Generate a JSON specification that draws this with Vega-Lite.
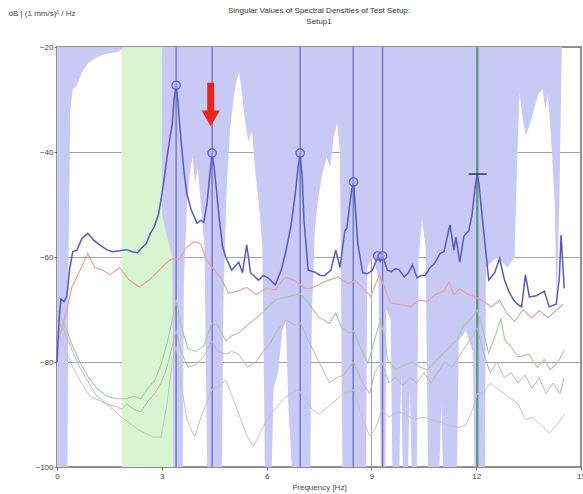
{
  "$schema": "https://vega.github.io/schema/vega-lite/v6.json",
  "width": 524,
  "height": 420,
  "autosize": "none",
  "padding": {"left": 57, "top": 47, "right": 2, "bottom": 27},
  "background": "white",
  "title": {
    "text": ["Singular Values of Spectral Densities of Test Setup:", "Setup1"],
    "font": "Liberation Sans",
    "fontSize": 8,
    "fontWeight": "normal",
    "color": "#333333",
    "anchor": "middle",
    "offset": -17,
    "lineHeight": 11
  },
  "config": {
    "view": {"stroke": "#707070", "strokeWidth": 1.5},
    "axis": {
      "labelFont": "Liberation Sans",
      "labelFontSize": 8,
      "labelColor": "#444444",
      "labelFlush": false,
      "titleFont": "Liberation Sans",
      "titleFontSize": 8,
      "titleFontWeight": "normal",
      "titleColor": "#444444",
      "domain": false,
      "tickColor": "#707070",
      "tickSize": 3,
      "gridColor": "#8c8c8c",
      "gridWidth": 0.8,
      "gridOpacity": 1,
      "zindex": 1
    }
  },
  "datasets": {
    "band": [{"f": 1.85, "f2": 3.33}],
    "bg": [
      {"f": 0, "b": -100}, {"f": 0.3, "b": -100}, {"f": 0.33, "b": -60}, {"f": 0.38, "b": -32}, {"f": 0.45, "b": -28},
      {"f": 0.55, "b": -27.5}, {"f": 0.62, "b": -26.5}, {"f": 0.7, "b": -25}, {"f": 0.8, "b": -24}, {"f": 0.9, "b": -23},
      {"f": 1.0, "b": -22.5}, {"f": 1.15, "b": -22}, {"f": 1.3, "b": -21.5}, {"f": 1.5, "b": -21.2}, {"f": 1.7, "b": -21},
      {"f": 1.85, "b": -20.5}, {"f": 1.9, "b": -20}, {"f": 3.0, "b": -20}, {"f": 3.01, "b": -52}, {"f": 3.15, "b": -56},
      {"f": 3.3, "b": -60}, {"f": 3.33, "b": -100}, {"f": 3.6, "b": -100}, {"f": 3.63, "b": -65}, {"f": 3.72, "b": -50},
      {"f": 3.8, "b": -44}, {"f": 3.88, "b": -41}, {"f": 3.95, "b": -46}, {"f": 4.03, "b": -43}, {"f": 4.12, "b": -50},
      {"f": 4.22, "b": -58}, {"f": 4.3, "b": -100}, {"f": 4.72, "b": -100}, {"f": 4.76, "b": -70}, {"f": 4.85, "b": -48},
      {"f": 4.95, "b": -36}, {"f": 5.05, "b": -30}, {"f": 5.15, "b": -26}, {"f": 5.22, "b": -25}, {"f": 5.3, "b": -29},
      {"f": 5.38, "b": -34}, {"f": 5.48, "b": -38}, {"f": 5.58, "b": -36}, {"f": 5.68, "b": -44}, {"f": 5.78, "b": -50},
      {"f": 5.88, "b": -58}, {"f": 5.95, "b": -100}, {"f": 6.15, "b": -100}, {"f": 6.2, "b": -85}, {"f": 6.33, "b": -82},
      {"f": 6.45, "b": -74}, {"f": 6.55, "b": -72}, {"f": 6.62, "b": -88}, {"f": 6.72, "b": -100}, {"f": 7.25, "b": -100},
      {"f": 7.3, "b": -70}, {"f": 7.38, "b": -55}, {"f": 7.48, "b": -48.6}, {"f": 7.6, "b": -44}, {"f": 7.72, "b": -41},
      {"f": 7.82, "b": -43}, {"f": 7.92, "b": -37}, {"f": 8.02, "b": -34.5}, {"f": 8.1, "b": -40}, {"f": 8.17, "b": -100},
      {"f": 8.85, "b": -100}, {"f": 8.88, "b": -62}, {"f": 9.05, "b": -60}, {"f": 9.2, "b": -64}, {"f": 9.27, "b": -100},
      {"f": 9.4, "b": -100}, {"f": 9.43, "b": -70}, {"f": 9.55, "b": -72}, {"f": 9.6, "b": -100}, {"f": 9.8, "b": -100},
      {"f": 9.85, "b": -82}, {"f": 9.9, "b": -100}, {"f": 10.05, "b": -100}, {"f": 10.1, "b": -85}, {"f": 10.15, "b": -100},
      {"f": 10.3, "b": -100}, {"f": 10.35, "b": -60}, {"f": 10.45, "b": -53}, {"f": 10.55, "b": -58}, {"f": 10.62, "b": -100},
      {"f": 10.95, "b": -100}, {"f": 11.0, "b": -88}, {"f": 11.05, "b": -100}, {"f": 11.45, "b": -100}, {"f": 11.5, "b": -76},
      {"f": 11.7, "b": -74}, {"f": 11.9, "b": -78}, {"f": 11.95, "b": -100}, {"f": 12.25, "b": -100}, {"f": 12.28, "b": -62},
      {"f": 12.6, "b": -60}, {"f": 12.9, "b": -62}, {"f": 13.1, "b": -60}, {"f": 13.18, "b": -40}, {"f": 13.24, "b": -28.8},
      {"f": 13.32, "b": -33}, {"f": 13.42, "b": -37}, {"f": 13.52, "b": -35}, {"f": 13.65, "b": -32}, {"f": 13.78, "b": -29},
      {"f": 13.9, "b": -28}, {"f": 13.98, "b": -32}, {"f": 14.05, "b": -29}, {"f": 14.15, "b": -38}, {"f": 14.25, "b": -50},
      {"f": 14.3, "b": -70}, {"f": 14.38, "b": -50}, {"f": 14.45, "b": -20}, {"f": 15, "b": -20}
    ],
    "modes": [{"f": 3.41}, {"f": 4.44}, {"f": 6.96}, {"f": 8.48}, {"f": 9.32}],
    "mode12": [{"f": 12.03}],
    "sv5": [
      {"f": 0.0, "v": -74}, {"f": 0.2, "v": -77}, {"f": 0.45, "v": -81}, {"f": 0.7, "v": -84}, {"f": 0.95, "v": -86.5},
      {"f": 1.42, "v": -88}, {"f": 1.85, "v": -90.5}, {"f": 2.35, "v": -93}, {"f": 2.75, "v": -94.3}, {"f": 2.98, "v": -94.3},
      {"f": 3.15, "v": -88}, {"f": 3.3, "v": -80}, {"f": 3.41, "v": -77}, {"f": 3.55, "v": -84}, {"f": 3.72, "v": -91},
      {"f": 3.94, "v": -94.3}, {"f": 4.15, "v": -90}, {"f": 4.43, "v": -85.3}, {"f": 4.68, "v": -84.5}, {"f": 4.83, "v": -83.4},
      {"f": 5.1, "v": -88}, {"f": 5.4, "v": -93.5}, {"f": 5.62, "v": -96.2}, {"f": 5.85, "v": -93}, {"f": 6.14, "v": -89.7},
      {"f": 6.53, "v": -86.7}, {"f": 6.9, "v": -85.3}, {"f": 7.1, "v": -87}, {"f": 7.3, "v": -89}, {"f": 7.5, "v": -90},
      {"f": 7.85, "v": -88}, {"f": 8.2, "v": -86}, {"f": 8.49, "v": -85.3}, {"f": 8.75, "v": -91}, {"f": 8.95, "v": -94},
      {"f": 9.1, "v": -93}, {"f": 9.3, "v": -89}, {"f": 9.5, "v": -90.5}, {"f": 9.75, "v": -89.5}, {"f": 10.0, "v": -90},
      {"f": 10.22, "v": -91}, {"f": 10.5, "v": -90.5}, {"f": 10.7, "v": -91}, {"f": 11.0, "v": -91.5}, {"f": 11.2, "v": -92},
      {"f": 11.5, "v": -92.5}, {"f": 11.7, "v": -92}, {"f": 11.9, "v": -89}, {"f": 12.03, "v": -86}, {"f": 12.2, "v": -86},
      {"f": 12.4, "v": -84}, {"f": 12.6, "v": -85}, {"f": 12.8, "v": -86}, {"f": 13.0, "v": -87}, {"f": 13.2, "v": -88},
      {"f": 13.41, "v": -91}, {"f": 13.6, "v": -90.5}, {"f": 13.85, "v": -92}, {"f": 14.1, "v": -93.5}, {"f": 14.3, "v": -92},
      {"f": 14.52, "v": -90}
    ],
    "sv4": [
      {"f": 0.0, "v": -72}, {"f": 0.2, "v": -74}, {"f": 0.45, "v": -78}, {"f": 0.65, "v": -81}, {"f": 0.91, "v": -84},
      {"f": 1.14, "v": -86.5}, {"f": 1.42, "v": -88}, {"f": 1.7, "v": -88.5}, {"f": 1.85, "v": -89}, {"f": 2.0, "v": -88},
      {"f": 2.2, "v": -89}, {"f": 2.4, "v": -89.5}, {"f": 2.6, "v": -87.5}, {"f": 2.8, "v": -86}, {"f": 2.98, "v": -84},
      {"f": 3.15, "v": -81}, {"f": 3.3, "v": -77}, {"f": 3.41, "v": -74}, {"f": 3.55, "v": -78}, {"f": 3.75, "v": -81},
      {"f": 3.98, "v": -80.5}, {"f": 4.2, "v": -79}, {"f": 4.43, "v": -76}, {"f": 4.6, "v": -78}, {"f": 4.83, "v": -78.5},
      {"f": 5.0, "v": -78}, {"f": 5.2, "v": -78.5}, {"f": 5.45, "v": -81}, {"f": 5.7, "v": -80}, {"f": 5.9, "v": -78},
      {"f": 6.1, "v": -76.5}, {"f": 6.3, "v": -74}, {"f": 6.56, "v": -72}, {"f": 6.8, "v": -73}, {"f": 6.96, "v": -72.5},
      {"f": 7.2, "v": -76}, {"f": 7.5, "v": -80}, {"f": 7.8, "v": -84}, {"f": 8.0, "v": -83}, {"f": 8.2, "v": -82.5},
      {"f": 8.49, "v": -80}, {"f": 8.75, "v": -84}, {"f": 8.95, "v": -86}, {"f": 9.1, "v": -82}, {"f": 9.3, "v": -80},
      {"f": 9.5, "v": -84}, {"f": 9.7, "v": -83}, {"f": 9.9, "v": -84.5}, {"f": 10.1, "v": -83}, {"f": 10.3, "v": -84},
      {"f": 10.5, "v": -82}, {"f": 10.7, "v": -84}, {"f": 10.9, "v": -82}, {"f": 11.1, "v": -80}, {"f": 11.3, "v": -81},
      {"f": 11.5, "v": -79}, {"f": 11.7, "v": -77}, {"f": 11.9, "v": -75}, {"f": 12.03, "v": -73.5}, {"f": 12.2, "v": -78},
      {"f": 12.4, "v": -82}, {"f": 12.6, "v": -80}, {"f": 12.8, "v": -83}, {"f": 13.0, "v": -82}, {"f": 13.2, "v": -84},
      {"f": 13.4, "v": -82.5}, {"f": 13.6, "v": -85}, {"f": 13.8, "v": -83}, {"f": 14.0, "v": -86}, {"f": 14.2, "v": -84},
      {"f": 14.4, "v": -86}, {"f": 14.52, "v": -83}
    ],
    "sv3": [
      {"f": 0.0, "v": -70}, {"f": 0.1, "v": -71.5}, {"f": 0.28, "v": -74}, {"f": 0.45, "v": -77}, {"f": 0.65, "v": -80},
      {"f": 0.91, "v": -83}, {"f": 1.14, "v": -85}, {"f": 1.42, "v": -86.5}, {"f": 1.7, "v": -87}, {"f": 1.99, "v": -87},
      {"f": 2.2, "v": -86.5}, {"f": 2.4, "v": -87}, {"f": 2.6, "v": -85}, {"f": 2.8, "v": -83.5}, {"f": 2.98, "v": -80.5},
      {"f": 3.15, "v": -76.5}, {"f": 3.3, "v": -72}, {"f": 3.41, "v": -68}, {"f": 3.55, "v": -73}, {"f": 3.75, "v": -77.5},
      {"f": 3.98, "v": -78}, {"f": 4.2, "v": -77}, {"f": 4.43, "v": -72.6}, {"f": 4.6, "v": -73}, {"f": 4.83, "v": -76},
      {"f": 5.0, "v": -75}, {"f": 5.2, "v": -74.5}, {"f": 5.45, "v": -73}, {"f": 5.9, "v": -70.5}, {"f": 6.25, "v": -68.2},
      {"f": 6.56, "v": -67.6}, {"f": 6.96, "v": -67}, {"f": 7.2, "v": -68.8}, {"f": 7.5, "v": -71.5}, {"f": 7.8, "v": -72.6},
      {"f": 7.98, "v": -70.7}, {"f": 8.15, "v": -73.5}, {"f": 8.38, "v": -74.5}, {"f": 8.49, "v": -74}, {"f": 8.75, "v": -78.3},
      {"f": 8.9, "v": -80.2}, {"f": 9.09, "v": -75.8}, {"f": 9.26, "v": -72}, {"f": 9.4, "v": -76}, {"f": 9.46, "v": -79.6},
      {"f": 9.69, "v": -81.5}, {"f": 9.97, "v": -80.5}, {"f": 10.17, "v": -80}, {"f": 10.4, "v": -81}, {"f": 10.6, "v": -81.5},
      {"f": 10.88, "v": -79.6}, {"f": 11.16, "v": -77.7}, {"f": 11.45, "v": -75.8}, {"f": 11.62, "v": -73.3}, {"f": 11.82, "v": -72},
      {"f": 12.03, "v": -70.1}, {"f": 12.2, "v": -74}, {"f": 12.35, "v": -78.3}, {"f": 12.55, "v": -75}, {"f": 12.7, "v": -71.7},
      {"f": 12.82, "v": -75.8}, {"f": 13.0, "v": -77.1}, {"f": 13.2, "v": -79}, {"f": 13.5, "v": -78.5}, {"f": 13.75, "v": -81},
      {"f": 13.95, "v": -79.5}, {"f": 14.12, "v": -81.5}, {"f": 14.35, "v": -80}, {"f": 14.52, "v": -77.7}
    ],
    "sv2": [
      {"f": 0.03, "v": -76}, {"f": 0.17, "v": -73}, {"f": 0.43, "v": -65.7}, {"f": 0.57, "v": -63.8}, {"f": 0.88, "v": -59.3},
      {"f": 1.08, "v": -62}, {"f": 1.31, "v": -62.5}, {"f": 1.51, "v": -63.4}, {"f": 1.79, "v": -62}, {"f": 2.07, "v": -64.4},
      {"f": 2.36, "v": -65.7}, {"f": 2.64, "v": -64.4}, {"f": 2.93, "v": -62.5}, {"f": 3.12, "v": -61.2}, {"f": 3.3, "v": -60.3},
      {"f": 3.5, "v": -60.5}, {"f": 3.69, "v": -58.3}, {"f": 3.92, "v": -57.1}, {"f": 4.12, "v": -57.5}, {"f": 4.26, "v": -60.3},
      {"f": 4.43, "v": -61.9}, {"f": 4.69, "v": -64}, {"f": 4.91, "v": -66.9}, {"f": 5.2, "v": -66.4}, {"f": 5.43, "v": -65.8},
      {"f": 5.71, "v": -67.2}, {"f": 5.97, "v": -66}, {"f": 6.25, "v": -66.2}, {"f": 6.53, "v": -63.8}, {"f": 6.82, "v": -64.6},
      {"f": 7.1, "v": -66}, {"f": 7.27, "v": -66}, {"f": 7.67, "v": -64.7}, {"f": 8.04, "v": -63.8}, {"f": 8.32, "v": -65},
      {"f": 8.55, "v": -64.5}, {"f": 8.81, "v": -66.3}, {"f": 8.98, "v": -67.5}, {"f": 9.23, "v": -63.4}, {"f": 9.38, "v": -66},
      {"f": 9.55, "v": -68.8}, {"f": 9.83, "v": -69}, {"f": 10.11, "v": -69.5}, {"f": 10.37, "v": -68.2}, {"f": 10.6, "v": -68.5},
      {"f": 10.82, "v": -67.2}, {"f": 11.08, "v": -66.5}, {"f": 11.22, "v": -64.7}, {"f": 11.36, "v": -67.2}, {"f": 11.53, "v": -66},
      {"f": 11.73, "v": -67}, {"f": 11.96, "v": -67.6}, {"f": 12.22, "v": -68.5}, {"f": 12.44, "v": -69.5}, {"f": 12.67, "v": -68.2},
      {"f": 12.87, "v": -70.7}, {"f": 13.1, "v": -72.3}, {"f": 13.35, "v": -70}, {"f": 13.58, "v": -71.6}, {"f": 13.81, "v": -70.2},
      {"f": 14.06, "v": -71.6}, {"f": 14.29, "v": -70.1}, {"f": 14.49, "v": -69}
    ],
    "sv1": [
      {"f": 0.0, "v": -80}, {"f": 0.06, "v": -72}, {"f": 0.11, "v": -68}, {"f": 0.2, "v": -68.5}, {"f": 0.28, "v": -67.5},
      {"f": 0.37, "v": -62}, {"f": 0.45, "v": -59}, {"f": 0.57, "v": -58.7}, {"f": 0.71, "v": -56.5}, {"f": 0.88, "v": -55.5},
      {"f": 1.05, "v": -56.8}, {"f": 1.22, "v": -57.7}, {"f": 1.42, "v": -58.6}, {"f": 1.59, "v": -59}, {"f": 1.79, "v": -58.8},
      {"f": 1.99, "v": -58.6}, {"f": 2.16, "v": -59}, {"f": 2.3, "v": -59.2}, {"f": 2.44, "v": -58.2}, {"f": 2.56, "v": -57.4},
      {"f": 2.67, "v": -55.5}, {"f": 2.78, "v": -54.3}, {"f": 2.9, "v": -52}, {"f": 2.98, "v": -49}, {"f": 3.07, "v": -45},
      {"f": 3.15, "v": -41}, {"f": 3.24, "v": -37}, {"f": 3.3, "v": -34.6}, {"f": 3.35, "v": -30}, {"f": 3.41, "v": -27.3},
      {"f": 3.47, "v": -31}, {"f": 3.52, "v": -35.5}, {"f": 3.64, "v": -44}, {"f": 3.72, "v": -48}, {"f": 3.84, "v": -51},
      {"f": 4.01, "v": -53.6}, {"f": 4.12, "v": -53}, {"f": 4.2, "v": -53.4}, {"f": 4.29, "v": -50}, {"f": 4.38, "v": -44},
      {"f": 4.44, "v": -40.2}, {"f": 4.5, "v": -43}, {"f": 4.56, "v": -47}, {"f": 4.65, "v": -53}, {"f": 4.74, "v": -58},
      {"f": 4.83, "v": -60}, {"f": 5.0, "v": -62.5}, {"f": 5.2, "v": -61}, {"f": 5.31, "v": -63}, {"f": 5.43, "v": -57.7},
      {"f": 5.54, "v": -63}, {"f": 5.77, "v": -64.4}, {"f": 5.91, "v": -63.5}, {"f": 6.05, "v": -64}, {"f": 6.25, "v": -65.3},
      {"f": 6.42, "v": -62.5}, {"f": 6.56, "v": -58.7}, {"f": 6.7, "v": -54}, {"f": 6.82, "v": -48}, {"f": 6.9, "v": -43},
      {"f": 6.96, "v": -40.2}, {"f": 7.02, "v": -45}, {"f": 7.07, "v": -53}, {"f": 7.19, "v": -62.5}, {"f": 7.39, "v": -62.9},
      {"f": 7.53, "v": -63.5}, {"f": 7.67, "v": -63.5}, {"f": 7.84, "v": -62.5}, {"f": 7.93, "v": -60}, {"f": 7.98, "v": -58.7},
      {"f": 8.1, "v": -62}, {"f": 8.18, "v": -58}, {"f": 8.24, "v": -55}, {"f": 8.3, "v": -54.5}, {"f": 8.38, "v": -50},
      {"f": 8.44, "v": -47}, {"f": 8.49, "v": -45.7}, {"f": 8.55, "v": -51.6}, {"f": 8.61, "v": -57.4}, {"f": 8.75, "v": -63},
      {"f": 8.89, "v": -63.2}, {"f": 9.03, "v": -62.5}, {"f": 9.12, "v": -61}, {"f": 9.18, "v": -59.8}, {"f": 9.25, "v": -60.8},
      {"f": 9.32, "v": -59.8}, {"f": 9.46, "v": -62.5}, {"f": 9.57, "v": -62.8}, {"f": 9.69, "v": -62.2}, {"f": 9.8, "v": -62.5},
      {"f": 9.94, "v": -63.8}, {"f": 10.06, "v": -63}, {"f": 10.17, "v": -61.5}, {"f": 10.31, "v": -64}, {"f": 10.43, "v": -63.5},
      {"f": 10.54, "v": -63.5}, {"f": 10.68, "v": -62}, {"f": 10.8, "v": -61.3}, {"f": 10.97, "v": -59.3}, {"f": 11.08, "v": -59},
      {"f": 11.16, "v": -56.5}, {"f": 11.25, "v": -53.9}, {"f": 11.36, "v": -58.7}, {"f": 11.42, "v": -56.2}, {"f": 11.53, "v": -61},
      {"f": 11.65, "v": -56}, {"f": 11.79, "v": -55}, {"f": 11.88, "v": -52}, {"f": 11.96, "v": -47.2}, {"f": 12.03, "v": -44},
      {"f": 12.08, "v": -46}, {"f": 12.16, "v": -51.6}, {"f": 12.22, "v": -55.5}, {"f": 12.36, "v": -64.4}, {"f": 12.53, "v": -63},
      {"f": 12.67, "v": -60.3}, {"f": 12.81, "v": -64.4}, {"f": 12.93, "v": -66.5}, {"f": 13.07, "v": -68.2}, {"f": 13.18, "v": -69},
      {"f": 13.3, "v": -69.5}, {"f": 13.41, "v": -63.4}, {"f": 13.52, "v": -67.6}, {"f": 13.72, "v": -67.4}, {"f": 13.95, "v": -66.5},
      {"f": 14.09, "v": -69.5}, {"f": 14.29, "v": -69}, {"f": 14.38, "v": -64}, {"f": 14.43, "v": -55.8}, {"f": 14.52, "v": -66}
    ],
    "peaks": [
      {"f": 3.41, "v": -27.3}, {"f": 4.44, "v": -40.2}, {"f": 6.96, "v": -40.2}, {"f": 8.49, "v": -45.7},
      {"f": 9.18, "v": -59.8}, {"f": 9.32, "v": -59.8}
    ],
    "mark12": [{"f": 11.78, "f2": 12.3, "v": -44.2}],
    "arrow": [{"f": 4.4, "top": -26.8, "bottom": -32.6, "tip": -33.6}]
  },
  "layer": [
    {
      "data": {"name": "band"},
      "mark": {"type": "rect", "color": "#d7f5d1"},
      "encoding": {
        "x": {"field": "f", "type": "quantitative", "title": "Frequency [Hz]",
              "scale": {"domain": [0, 15], "nice": false, "zero": false},
              "axis": {"values": [0, 3, 6, 9, 12, 15], "grid": true, "labelPadding": 2, "titlePadding": 3}},
        "x2": {"field": "f2"}
      }
    },
    {
      "data": {"name": "bg"},
      "mark": {"type": "area", "color": "#c9c9f6", "opacity": 1},
      "encoding": {
        "x": {"field": "f", "type": "quantitative", "title": "Frequency [Hz]"},
        "y": {"field": "b", "type": "quantitative", "title": "dB | (1 mm/s)² / Hz",
              "scale": {"domain": [-100, -20], "nice": false, "zero": false},
              "axis": {"values": [-100, -80, -60, -40, -20], "grid": true, "labelPadding": 1,
                       "titleAngle": 0, "titleAlign": "left", "titleBaseline": "middle",
                       "titleX": -49, "titleY": -34}},
        "y2": {"datum": -20}
      }
    },
    {
      "data": {"name": "modes"},
      "mark": {"type": "rule", "color": "#6c6cbc", "strokeWidth": 1.3},
      "encoding": {"x": {"field": "f", "type": "quantitative", "title": "Frequency [Hz]"}}
    },
    {
      "data": {"name": "mode12"},
      "mark": {"type": "rule", "color": "#5f9884", "strokeWidth": 2.4},
      "encoding": {"x": {"field": "f", "type": "quantitative", "title": "Frequency [Hz]"}}
    },
    {
      "data": {"name": "sv5"},
      "mark": {"type": "line", "color": "#c4c4c4", "strokeWidth": 1},
      "encoding": {
        "x": {"field": "f", "type": "quantitative", "title": "Frequency [Hz]"},
        "y": {"field": "v", "type": "quantitative", "title": "dB | (1 mm/s)² / Hz"}
      }
    },
    {
      "data": {"name": "sv4"},
      "mark": {"type": "line", "color": "#b8b8b8", "strokeWidth": 1},
      "encoding": {
        "x": {"field": "f", "type": "quantitative", "title": "Frequency [Hz]"},
        "y": {"field": "v", "type": "quantitative", "title": "dB | (1 mm/s)² / Hz"}
      }
    },
    {
      "data": {"name": "sv3"},
      "mark": {"type": "line", "color": "#a6caa6", "strokeWidth": 1.1},
      "encoding": {
        "x": {"field": "f", "type": "quantitative", "title": "Frequency [Hz]"},
        "y": {"field": "v", "type": "quantitative", "title": "dB | (1 mm/s)² / Hz"}
      }
    },
    {
      "data": {"name": "sv2"},
      "mark": {"type": "line", "color": "#e3a4a4", "strokeWidth": 1.2},
      "encoding": {
        "x": {"field": "f", "type": "quantitative", "title": "Frequency [Hz]"},
        "y": {"field": "v", "type": "quantitative", "title": "dB | (1 mm/s)² / Hz"}
      }
    },
    {
      "data": {"name": "sv1"},
      "mark": {"type": "line", "color": "#5858c2", "strokeWidth": 1.5},
      "encoding": {
        "x": {"field": "f", "type": "quantitative", "title": "Frequency [Hz]"},
        "y": {"field": "v", "type": "quantitative", "title": "dB | (1 mm/s)² / Hz"}
      }
    },
    {
      "data": {"name": "peaks"},
      "mark": {"type": "point", "shape": "circle", "size": 70, "filled": false, "stroke": "#5a5ad0", "strokeWidth": 1.2, "fill": "#b8b8f0", "fillOpacity": 0.5},
      "encoding": {
        "x": {"field": "f", "type": "quantitative", "title": "Frequency [Hz]"},
        "y": {"field": "v", "type": "quantitative", "title": "dB | (1 mm/s)² / Hz"}
      }
    },
    {
      "data": {"name": "mark12"},
      "mark": {"type": "rule", "color": "#222222", "strokeWidth": 1.3},
      "encoding": {
        "x": {"field": "f", "type": "quantitative", "title": "Frequency [Hz]"},
        "x2": {"field": "f2"},
        "y": {"field": "v", "type": "quantitative", "title": "dB | (1 mm/s)² / Hz"}
      }
    },
    {
      "data": {"name": "arrow"},
      "mark": {"type": "rule", "color": "#e8261c", "strokeWidth": 7},
      "encoding": {
        "x": {"field": "f", "type": "quantitative", "title": "Frequency [Hz]"},
        "y": {"field": "top", "type": "quantitative", "title": "dB | (1 mm/s)² / Hz"},
        "y2": {"field": "bottom"}
      }
    },
    {
      "data": {"name": "arrow"},
      "mark": {"type": "point", "shape": "triangle-down", "size": 330, "filled": true, "color": "#e8261c", "opacity": 1, "strokeWidth": 0},
      "encoding": {
        "x": {"field": "f", "type": "quantitative", "title": "Frequency [Hz]"},
        "y": {"field": "tip", "type": "quantitative", "title": "dB | (1 mm/s)² / Hz"}
      }
    }
  ]
}
